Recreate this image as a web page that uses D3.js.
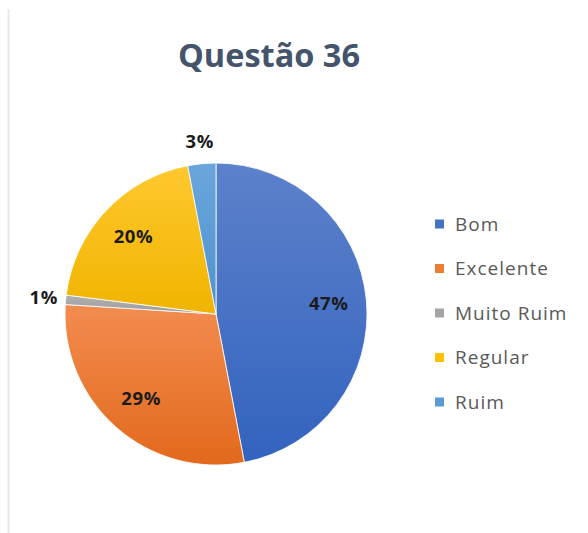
<!DOCTYPE html>
<html>
<head>
<meta charset="utf-8">
<script src="https://cdn.jsdelivr.net/npm/d3@7"></script>
<style>
  html, body { margin: 0; padding: 0; background: #fff; }
  svg { display: block; }
</style>
</head>
<body>
<svg id="chart" width="588" height="533"></svg>
<script>
// Survey answers for question 36
const categories = ["Bom", "Excelente", "Muito Ruim", "Regular", "Ruim"];
const values = [47, 29, 1, 20, 3];
const labels = ["47%", "29%", "1%", "20%", "3%"];
const colorsTop = ["#5d81cb", "#f28c4f", "#b0b0b0", "#ffc82e", "#69a6dc"];
const colorsBottom = ["#3263be", "#e2691c", "#9c9c9c", "#f0b400", "#4f92cf"];
const legendColors = ["#4472c4", "#ed7d31", "#a5a5a5", "#ffc000", "#5b9bd5"];

const svg = d3.select("#chart");
const W = 588, H = 533;

// thin frame line on the left
svg.append("line")
  .attr("x1", 8.5).attr("x2", 8.5).attr("y1", 9).attr("y2", H)
  .attr("stroke", "#e4e8ef").attr("stroke-width", 2);

// title
svg.append("text")
  .attr("x", 269).attr("y", 67)
  .attr("text-anchor", "middle")
  .attr("font-family", "Open Sans, sans-serif")
  .attr("font-weight", "bold")
  .attr("font-size", 32.5)
  .attr("fill", "#44546a")
  .text("Questão 36");

// gradients for the slices
const defs = svg.append("defs");
categories.forEach((c, i) => {
  const g = defs.append("linearGradient")
    .attr("id", "grad" + i)
    .attr("x1", 0).attr("y1", 0).attr("x2", 0).attr("y2", 1);
  g.append("stop").attr("offset", "0%").attr("stop-color", colorsTop[i]);
  g.append("stop").attr("offset", "100%").attr("stop-color", colorsBottom[i]);
});

const cx = 216, cy = 314, r = 151;
const data = categories.map((c, i) => ({ name: c, value: values[i], label: labels[i], i }));

const pie = d3.pie().value(d => d.value).sort(null);
const arcs = pie(data);
const arc = d3.arc().innerRadius(0).outerRadius(r);
const inArc = d3.arc().innerRadius(r * 0.75).outerRadius(r * 0.75);
const outArc = d3.arc().innerRadius(r + 22).outerRadius(r + 22);

const g = svg.append("g").attr("transform", `translate(${cx},${cy})`);

g.selectAll("path.slice")
  .data(arcs)
  .join("path")
  .attr("class", "slice")
  .attr("d", arc)
  .attr("fill", d => `url(#grad${d.data.i})`)
  .attr("stroke", "#ffffff")
  .attr("stroke-width", 0.8);

g.selectAll("text.lbl")
  .data(arcs)
  .join("text")
  .attr("class", "lbl")
  .attr("transform", d => {
    const p = (d.data.value < 5 ? outArc : inArc).centroid(d);
    return `translate(${p[0]},${p[1]})`;
  })
  .attr("text-anchor", "middle")
  .attr("dy", "0.35em")
  .attr("font-family", "Open Sans, sans-serif")
  .attr("font-weight", "bold")
  .attr("font-size", 18.5)
  .attr("letter-spacing", 0.6)
  .attr("fill", "#1b1b1b")
  .text(d => d.data.label);

// legend
const legend = svg.append("g").attr("transform", "translate(435,224)");
const rowGap = 44.5;
const items = legend.selectAll("g")
  .data(data)
  .join("g")
  .attr("transform", (d, i) => `translate(0,${i * rowGap})`);
items.append("rect")
  .attr("x", 0).attr("y", -4.5)
  .attr("width", 9).attr("height", 9)
  .attr("fill", d => legendColors[d.i]);
items.append("text")
  .attr("x", 20).attr("y", 0)
  .attr("dy", "0.35em")
  .attr("font-family", "Open Sans, sans-serif")
  .attr("font-size", 19)
  .attr("letter-spacing", 1)
  .attr("fill", "#595959")
  .text(d => d.name);
</script>
</body>
</html>
